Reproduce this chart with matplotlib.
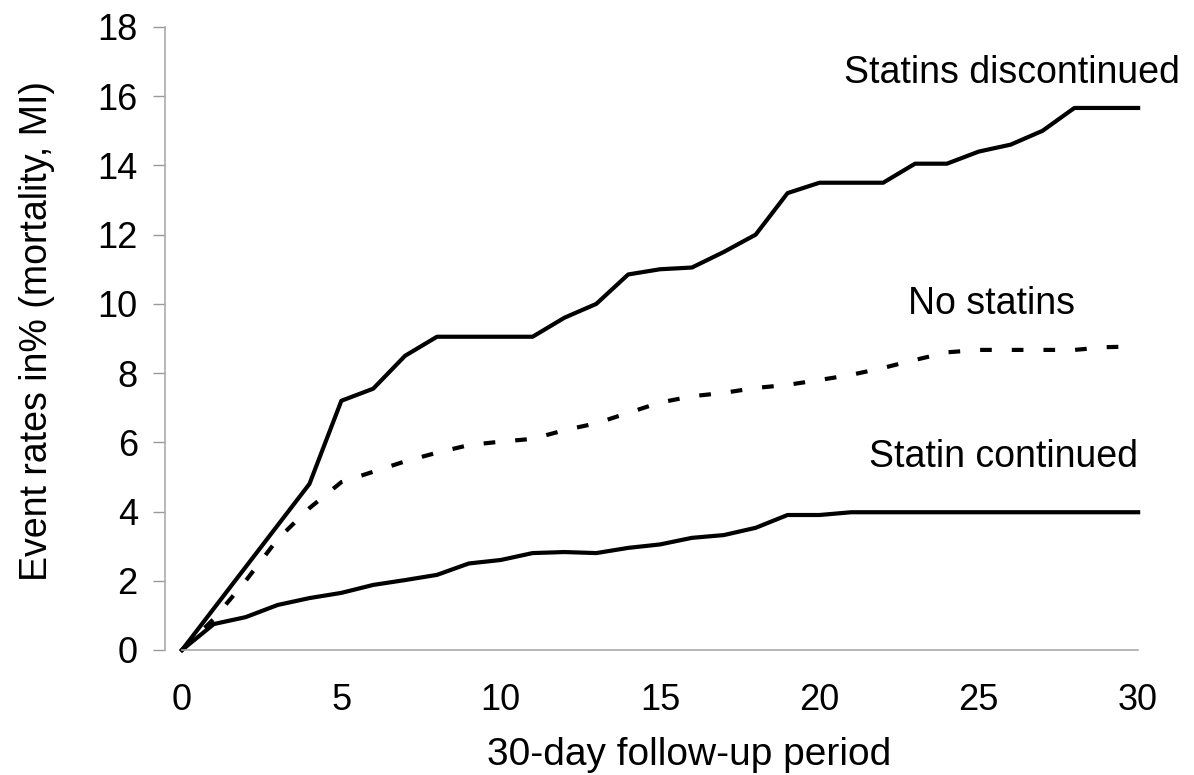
import numpy as np
import matplotlib
matplotlib.use("Agg")
import matplotlib.pyplot as plt

plt.rcParams['font.family'] = ['Liberation Sans', 'DejaVu Sans']

# follow-up days
days = list(range(31))

# event rates in %
discontinued = [0, 1.2, 2.4, 3.6, 4.8, 7.2, 7.55, 8.5, 9.05, 9.05, 9.05,
                9.05, 9.6, 10.0, 10.85, 11.0, 11.05, 11.5, 12.0, 13.2, 13.5,
                13.5, 13.5, 14.05, 14.05, 14.4, 14.6, 15.0, 15.66, 15.66, 15.66]
no_statins = [0, 0.9, 2.0, 3.2, 4.1, 4.85, 5.15, 5.45, 5.7, 5.92, 6.02,
              6.1, 6.35, 6.55, 6.85, 7.15, 7.33, 7.43, 7.57, 7.66, 7.8,
              7.95, 8.15, 8.38, 8.6, 8.67, 8.67, 8.67, 8.67, 8.75, 8.77]
continued = [0, 0.75, 0.95, 1.3, 1.5, 1.65, 1.88, 2.02, 2.17, 2.5, 2.6,
             2.8, 2.83, 2.8, 2.95, 3.05, 3.24, 3.32, 3.53, 3.9, 3.9,
             3.98, 3.98, 3.98, 3.98, 3.98, 3.98, 3.98, 3.98, 3.98, 3.98]

xticks = [0, 5, 10, 15, 20, 25, 30]
yticks = [0, 2, 4, 6, 8, 10, 12, 14, 16, 18]

fig = plt.figure(figsize=(11.94, 7.75), dpi=100)
ax = fig.add_axes([0.1382, 0.1613, 0.9799 - 0.1382, 0.9652 - 0.1613])

ax.plot(days, discontinued, color='black', lw=3.0, clip_on=False)
ax.plot(days, no_statins, color='black', lw=3.0, dashes=(2.8, 4.8), clip_on=False)
ax.plot(days, continued, color='black', lw=3.0, clip_on=False)

ax.set_xlim(-0.533, 31.0)
ax.set_ylim(0, 18)
ax.set_xticks(xticks)
ax.set_yticks(yticks)
ax.tick_params(axis='both', labelsize=26, color='#999999', width=1)
ax.tick_params(axis='y', length=8.6, pad=11)
ax.tick_params(axis='x', length=0, pad=24)

for side in ['top', 'right']:
    ax.spines[side].set_visible(False)
for side in ['left', 'bottom']:
    ax.spines[side].set_color('#aaaaaa')
    ax.spines[side].set_linewidth(1.2)
ax.spines['bottom'].set_bounds(0, 30)

ax.set_xlabel('30-day follow-up period', fontsize=28, va='center')
ax.xaxis.set_label_coords(0.522, -0.1685)
ax.set_ylabel('Event rates in% (mortality, MI)', fontsize=27, va='center')
ax.yaxis.set_label_coords(-0.127, 0.512)

ax.text(31.3, 16.68, 'Statins discontinued', fontsize=27, ha='right', va='center')
ax.text(25.4, 10.0, 'No statins', fontsize=27, ha='center', va='center')
ax.text(30.0, 5.57, 'Statin continued', fontsize=27, ha='right', va='center')

fig.savefig('out.png', dpi=100)
